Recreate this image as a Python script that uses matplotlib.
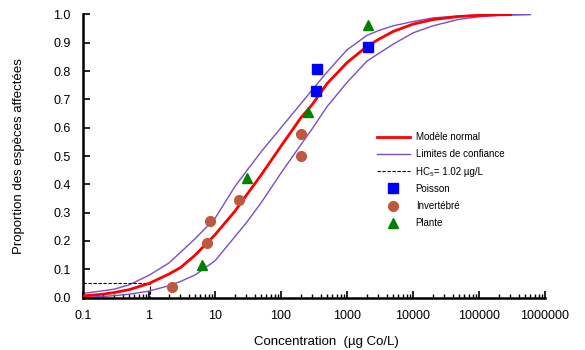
import matplotlib
matplotlib.use("Agg")
import matplotlib.pyplot as plt
from matplotlib.legend_handler import HandlerLine2D
from matplotlib.ticker import LogLocator, FixedLocator, NullFormatter

plt.rcParams['font.family'] = ['Liberation Sans', 'DejaVu Sans']

# fitted curve + confidence limits
curve_x = [0.1, 0.2, 0.3, 0.5, 1, 2, 3, 5, 10, 20, 30, 50, 100, 200, 300, 500,
           1000, 2000, 3000, 5000, 10000, 20000, 50000, 100000, 200000, 300000]
model_y = [0.006, 0.012, 0.018, 0.028, 0.050, 0.083, 0.106, 0.150, 0.222, 0.305,
           0.362, 0.433, 0.535, 0.635, 0.683, 0.756, 0.830, 0.887, 0.912, 0.940,
           0.966, 0.982, 0.993, 0.997, 0.999, 0.9995]

limit_x = [0.1, 0.2, 0.3, 0.5, 1, 2, 3, 5, 10, 20, 30, 50, 100, 200, 300, 500,
           1000, 2000, 3000, 5000, 10000, 20000, 50000, 100000, 200000, 600000]
upper_y = [0.015, 0.024, 0.030, 0.045, 0.079, 0.122, 0.160, 0.208, 0.280, 0.392,
           0.447, 0.515, 0.600, 0.685, 0.735, 0.797, 0.875, 0.926, 0.943, 0.960,
           0.975, 0.988, 0.995, 0.998, 0.999, 1.0]
lower_y = [0.001, 0.004, 0.007, 0.012, 0.023, 0.042, 0.057, 0.080, 0.130, 0.215,
           0.265, 0.335, 0.440, 0.540, 0.598, 0.675, 0.760, 0.835, 0.862, 0.895,
           0.935, 0.960, 0.983, 0.992, 0.997, 1.0]

hc5 = 1.02
hc5_p = 0.05

# species toxicity data
poisson_x = [343, 355, 2100]
poisson_y = [0.731, 0.808, 0.885]
invert_x = [2.2, 7.6, 8.5, 23, 200, 200]
invert_y = [0.038, 0.192, 0.269, 0.346, 0.500, 0.577]
plante_x = [6.4, 31, 260, 2050]
plante_y = [0.115, 0.423, 0.654, 0.962]

xticks = [0.1, 1, 10, 100, 1000, 10000, 100000, 1000000]
xtick_labels = ["0.1", "1", "10", "100", "1000", "10000", "100000", "1000000"]
yticks = [0.0, 0.1, 0.2, 0.3, 0.4, 0.5, 0.6, 0.7, 0.8, 0.9, 1.0]


class RightMarker(HandlerLine2D):
    # put the marker near the right of the handle, like the original legend
    def get_xdata(self, legend, xdescent, ydescent, width, height, fontsize):
        xdata, _ = super().get_xdata(legend, xdescent, ydescent, width, height, fontsize)
        return xdata, [-xdescent + 0.82 * width]


fig = plt.figure(figsize=(5.85, 3.5), dpi=100)
ax = fig.add_axes([0.1419, 0.1497, 0.7897, 0.8089])

ax.plot(curve_x, model_y, color="#ff0000", lw=2, label="Modèle normal", zorder=3)
ax.plot(limit_x, upper_y, color="#7b4fc0", lw=1, label="Limites de confiance", zorder=2)
ax.plot(limit_x, lower_y, color="#7b4fc0", lw=1, zorder=2)
ax.plot([0.1, hc5, hc5], [hc5_p, hc5_p, 0], color="black", lw=0.8,
        ls=(0, (3, 1.5)), label="HC\u2085= 1.02 \u00b5g/L", zorder=2)

ax.plot(poisson_x, poisson_y, ls="none", marker="s", ms=7, color="#0000ff",
        label="Poisson", zorder=4)
ax.plot(invert_x, invert_y, ls="none", marker="o", ms=7, color="#c0573f",
        label="Invertébré", zorder=4)
ax.plot(plante_x, plante_y, ls="none", marker="^", ms=7.5, color="#008000",
        label="Plante", zorder=4)

ax.set_xscale("log")
ax.set_xlim(0.1, 1000000)
ax.set_ylim(0, 1.0)
ax.xaxis.set_major_locator(FixedLocator(xticks))
ax.set_xticklabels(xtick_labels)
ax.xaxis.set_minor_locator(LogLocator(base=10, subs=range(2, 10), numticks=20))
ax.xaxis.set_minor_formatter(NullFormatter())
ax.set_yticks(yticks)
ax.set_yticklabels([f"{v:.1f}" for v in yticks])

ax.tick_params(axis="both", which="major", direction="in", length=5, width=1.2,
               labelsize=9, pad=9)
ax.tick_params(axis="x", which="minor", direction="in", length=3, width=1)

for side in ["top", "right"]:
    ax.spines[side].set_visible(False)
for side in ["left", "bottom"]:
    ax.spines[side].set_linewidth(1.8)

ax.set_xlabel("Concentration  (\u00b5g Co/L)", fontsize=9.5)
ax.xaxis.set_label_coords(0.526, -0.135)
ax.set_ylabel("Proportion des espèces affectées", fontsize=9.5)
ax.yaxis.set_label_coords(-0.125, 0.5)

handles, labels = ax.get_legend_handles_labels()
hmap = {h: RightMarker(numpoints=1) for h in handles[3:]}
ax.legend(handles, labels, handler_map=hmap, loc="upper left",
          bbox_to_anchor=(0.636, 0.585), frameon=False, fontsize=7,
          handlelength=3.4, handletextpad=0.6, labelspacing=0.75,
          borderpad=0, borderaxespad=0)

fig.savefig("out.png", dpi=100)
